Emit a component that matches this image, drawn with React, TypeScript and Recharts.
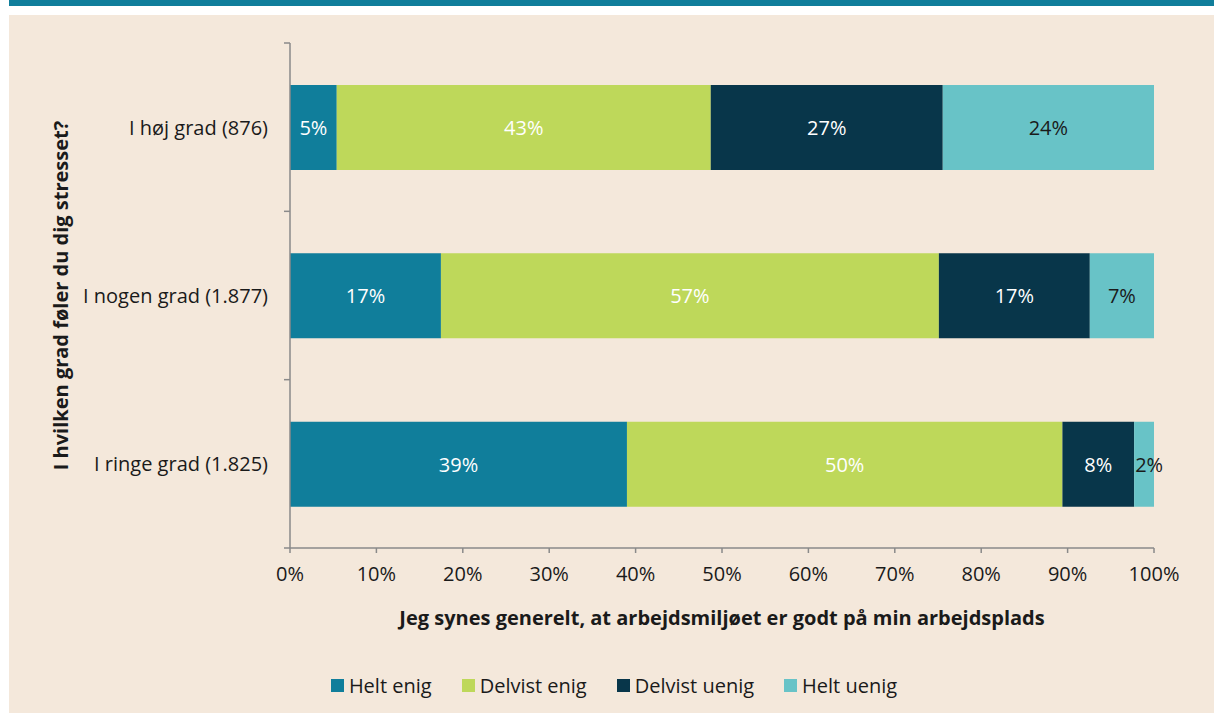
import React from 'react';
import { BarChart, Bar, XAxis, YAxis, Legend, LabelList, Label } from 'recharts';

const categories = ['I høj grad (876)', 'I nogen grad (1.877)', 'I ringe grad (1.825)'];
const seriesNames = ['Helt enig', 'Delvist enig', 'Delvist uenig', 'Helt uenig'];
const heltEnig = [5.4, 17.4, 39.0];
const delvistEnig = [43.2, 57.4, 50.4];
const delvistUenig = [26.8, 17.4, 8.3];
const heltUenig = [24.4, 7.4, 2.3];
const xTicks = [0, 0.1, 0.2, 0.3, 0.4, 0.5, 0.6, 0.7, 0.8, 0.9, 1];
const xTitle = 'Jeg synes generelt, at arbejdsmiljøet er godt på min arbejdsplads';
const yTitle = 'I hvilken grad føler du dig stresset?';

const seriesValues = [heltEnig, delvistEnig, delvistUenig, heltUenig];
const colors = ['#107E9B', '#BED85A', '#08364A', '#68C3C7'];
const labelColors = ['#ffffff', '#ffffff', '#ffffff', '#1a1a1a'];
const keys = ['s0', 's1', 's2', 's3'];

const data = categories.map((name, i) => {
  const row: any = { name };
  keys.forEach((k, j) => { row[k] = seriesValues[j][i]; });
  return row;
});

const FONT = '"Open Sans", sans-serif';
const AXIS = '#8a8a8a';
const TEXT = '#1a1a1a';

const CatTick = (props: any) => {
  const { x, y, payload, index, visibleTicksCount } = props;
  const half = payload && payload.offset != null ? payload.offset : 0;
  const axisX = x + 8;
  return (
    <g>
      <text x={x - 14} y={y} textAnchor="end" dominantBaseline="central" fontFamily={FONT} fontSize={20} fill={TEXT}>
        {payload.value}
      </text>
      <line x1={axisX - 6} x2={axisX} y1={y - half} y2={y - half} stroke={AXIS} strokeWidth={1.5} />
      {index === visibleTicksCount - 1 && (
        <line x1={axisX - 6} x2={axisX} y1={y + half} y2={y + half} stroke={AXIS} strokeWidth={1.5} />
      )}
    </g>
  );
};

const makeLabel = (j: number) => (props: any) => {
  const { x, y, width, height, index } = props;
  const v = seriesValues[j][index];
  const txt = `${Math.round(v)}%`;
  const small = width < 30;
  return (
    <text
      x={small ? x + 1 : x + width / 2}
      y={y + height / 2}
      textAnchor={small ? 'start' : 'middle'}
      dominantBaseline="central"
      fontFamily={FONT}
      fontSize={20}
      fill={labelColors[j]}
    >
      {txt}
    </text>
  );
};

const LegendContent = () => (
  <div style={{ height: 30, paddingLeft: 65, display: 'flex', justifyContent: 'center', alignItems: 'center', fontFamily: FONT, fontSize: 20, color: TEXT }}>
    {seriesNames.map((n, j) => (
      <div key={n} style={{ display: 'flex', alignItems: 'center', marginRight: j < seriesNames.length - 1 ? 30 : 0 }}>
        <span style={{ display: 'inline-block', width: 13, height: 13, background: colors[j], marginRight: 5 }} />
        <span>{n}</span>
      </div>
    ))}
  </div>
);

export default function App() {
  return (
    <div style={{ position: 'absolute', left: 0, top: 0, width: 1214, height: 713, background: '#ffffff', overflow: 'hidden' }}>
      <div style={{ position: 'absolute', left: 9, top: 0, width: 1205, height: 6, background: '#107E9B' }} />
      <div style={{ position: 'absolute', left: 9, top: 15, width: 1205, height: 698, background: '#F4E8DB' }}>
        <BarChart
          width={1205}
          height={698}
          data={data}
          layout="vertical"
          stackOffset="expand"
          barSize={85}
          margin={{ top: 28, right: 60, left: 0, bottom: 13 }}
        >
          <XAxis
            type="number"
            domain={[0, 1]}
            ticks={xTicks}
            tickFormatter={(v: number) => `${Math.round(v * 100)}%`}
            axisLine={{ stroke: AXIS, strokeWidth: 1.5 }}
            tickLine={{ stroke: AXIS, strokeWidth: 1.5 }}
            tickSize={5}
            tickMargin={14}
            tick={{ fontFamily: FONT, fontSize: 20, fill: TEXT }}
            height={122}
            interval={0}
          >
            <Label
              content={(p: any) => {
                const vb = p.viewBox;
                return (
                  <text x={vb.x + vb.width / 2} y={vb.y + 69} textAnchor="middle" dominantBaseline="central" fontFamily={FONT} fontSize={20} fontWeight="bold" fill={TEXT}>
                    {xTitle}
                  </text>
                );
              }}
            />
          </XAxis>
          <YAxis
            type="category"
            dataKey="name"
            width={281}
            axisLine={{ stroke: AXIS, strokeWidth: 1.5 }}
            tickLine={false}
            tickSize={6}
            tickMargin={2}
            tick={<CatTick />}
            interval={0}
          >
            <Label
              content={(p: any) => {
                const vb = p.viewBox;
                const cx = vb.x + 51;
                const cy = vb.y + vb.height / 2;
                return (
                  <text x={cx} y={cy} textAnchor="middle" dominantBaseline="central" transform={`rotate(-90 ${cx} ${cy})`} fontFamily={FONT} fontSize={20} fontWeight="bold" fill={TEXT}>
                    {yTitle}
                  </text>
                );
              }}
            />
          </YAxis>
          <Legend verticalAlign="bottom" content={<LegendContent />} />
          {keys.map((k, j) => (
            <Bar key={k} dataKey={k} name={seriesNames[j]} stackId="a" fill={colors[j]} isAnimationActive={false}>
              <LabelList dataKey={k} content={makeLabel(j)} />
            </Bar>
          ))}
        </BarChart>
      </div>
    </div>
  );
}
